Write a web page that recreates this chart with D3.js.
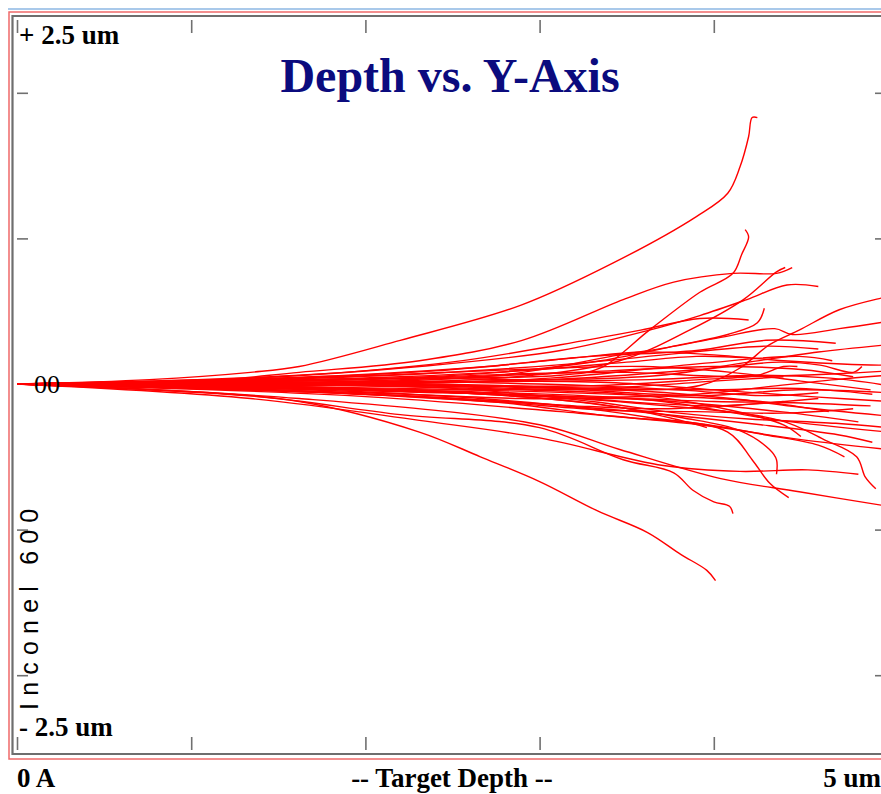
<!DOCTYPE html>
<meta charset="utf-8">
<style>
    body {
        margin: 0;
        background: #fff;
    }

    .lbl {
        font-family: "Liberation Serif", "Times New Roman", serif;
        font-weight: bold;
        fill: #000;
    }
</style>
<svg width="881" height="794"></svg>
<script src="https://cdn.jsdelivr.net/npm/d3@7/dist/d3.min.js"></script>
<script>
    // depth (um), lateral y (um)
    var upperTracks = [
        [[0, 0], [0.76, 0.03], [1.34, 0.08], [1.62, 0.12], [2.20, 0.30], [2.89, 0.54], [3.42, 0.83], [3.90, 1.15], [4.08, 1.31], [4.15, 1.49], [4.20, 1.70], [4.22, 1.83], [4.25, 1.83]],
        [[0, 0], [1.62, 0.01], [2.49, 0.04], [3.12, 0.06], [3.35, 0.11], [3.63, 0.37], [3.92, 0.63], [4.11, 0.76], [4.16, 0.89], [4.20, 1.01], [4.18, 1.06]],
        [[0, 0], [1.05, 0.02], [1.62, 0.08], [2.31, 0.16], [2.90, 0.30], [3.48, 0.58], [3.77, 0.70], [4.11, 0.76], [4.36, 0.76], [4.45, 0.80]],
        [[0, 0], [1.34, 0.04], [2.31, 0.12], [3.12, 0.23], [3.63, 0.37], [3.92, 0.47], [4.19, 0.58], [4.42, 0.68], [4.60, 0.67]],
        [[0, 0], [1.62, 0.01], [2.77, 0.04], [3.46, 0.16], [3.86, 0.37], [4.17, 0.58], [4.36, 0.77], [4.41, 0.80]],
        [[0, 0], [1.62, 0.06], [2.49, 0.15], [3.12, 0.27], [3.58, 0.37], [3.92, 0.45], [4.20, 0.44]],
        [[0, 0], [1.91, 0.03], [2.77, 0.08], [3.35, 0.16], [3.81, 0.27], [4.08, 0.34], [4.25, 0.42], [4.29, 0.52]],
        [[0, 0], [2.20, -0.01], [3.35, -0.04], [3.92, -0.01], [4.15, 0.11], [4.32, 0.27], [4.49, 0.37], [4.72, 0.51], [4.96, 0.59], [5.0, 0.60]],
        [[0, 0], [1.62, 0.01], [2.77, 0.06], [3.46, 0.20], [3.73, 0.25], [4.04, 0.32], [4.35, 0.38], [4.45, 0.34], [4.72, 0.38], [5.0, 0.43]],
        [[0, 0], [1.62, -0.01], [3.06, 0.04], [3.92, 0.14], [4.49, 0.19], [4.68, 0.16]],
        [[0, 0], [1.62, 0], [3.06, 0.03], [3.92, 0.10], [4.38, 0.15], [4.61, 0.13], [4.80, 0.08], [4.85, 0.12]],
        [[0, 0], [1.91, -0.01], [3.35, -0.01], [3.92, 0.03], [4.25, 0.06], [4.40, 0.12], [4.48, 0.12]]
    ];

    var lowerTracks = [
        [[0, 0], [0.76, -0.04], [1.62, -0.12], [2.31, -0.33], [2.66, -0.50], [3.00, -0.67], [3.33, -0.87], [3.62, -1.02], [3.81, -1.17], [3.96, -1.28], [4.01, -1.35]],
        [[0, 0], [1.34, -0.08], [2.20, -0.21], [3.00, -0.30], [3.48, -0.52], [3.77, -0.61], [3.88, -0.73], [4.00, -0.81], [4.09, -0.84], [4.11, -0.89]],
        [[0, 0], [1.34, -0.10], [2.31, -0.25], [3.00, -0.37], [3.71, -0.56], [4.15, -0.60], [4.54, -0.59], [4.83, -0.62]],
        [[0, 0], [1.62, -0.10], [3.00, -0.28], [3.46, -0.45], [4.04, -0.65], [4.49, -0.74], [5.0, -0.84]],
        [[0, 0], [1.91, -0.05], [3.06, -0.14], [3.63, -0.23], [4.08, -0.33], [4.22, -0.52], [4.32, -0.68], [4.43, -0.78]],
        [[0, 0], [1.91, -0.03], [3.12, -0.11], [3.81, -0.23], [4.15, -0.32], [4.32, -0.45], [4.36, -0.52], [4.36, -0.62]],
        [[0, 0], [2.20, -0.04], [3.63, -0.14], [4.38, -0.25], [4.63, -0.38], [4.82, -0.50], [4.87, -0.64], [4.93, -0.72]],
        [[0, 0], [2.20, -0.03], [3.63, -0.08], [4.27, -0.12], [4.66, -0.19]],
        [[0, 0], [2.20, -0.05], [3.63, -0.11], [4.38, -0.19], [4.83, -0.26]],
        [[0, 0], [2.20, -0.08], [3.46, -0.18], [4.27, -0.28], [4.72, -0.35], [4.91, -0.40]],
        [[0, 0], [1.91, -0.08], [3.12, -0.19], [3.92, -0.28], [4.49, -0.38], [5.0, -0.45]],
        [[0, 0], [2.49, -0.05], [3.63, -0.11], [4.38, -0.25], [5.0, -0.33]],
        [[0, 0], [2.20, -0.04], [3.35, -0.14], [3.81, -0.25], [3.96, -0.30]]
    ];

    var coreTracks = [
        [[0, 0], [2.20, 0.01], [3.63, 0.03], [4.27, 0.06], [4.67, 0.04], [5.0, -0.01]],
        [[0, 0], [2.49, -0.01], [3.92, -0.04], [4.49, -0.03], [4.91, -0.07]],
        [[0, 0], [2.77, -0.01], [3.92, -0.08], [4.49, -0.04], [5.0, -0.06]],
        [[0, 0], [1.5, 0.02], [2.6, 0.05], [3.4, 0.09], [4.0, 0.12], [4.5, 0.10], [4.8, 0.05]],
        [[0, 0], [1.4, -0.02], [2.5, -0.06], [3.3, -0.09], [3.9, -0.07], [4.3, -0.02], [4.7, 0.03], [5.0, 0.06]],
        [[0, 0], [1.2, 0.03], [2.3, 0.07], [3.2, 0.14], [3.8, 0.21], [4.3, 0.26], [4.6, 0.24]],
        [[0, 0], [1.3, -0.04], [2.4, -0.09], [3.2, -0.15], [3.7, -0.17], [4.2, -0.14], [4.6, -0.10]],
        [[0, 0], [1.6, 0.01], [2.8, -0.02], [3.6, -0.05], [4.1, -0.10], [4.5, -0.16], [5.0, -0.22]],
        [[0, 0], [1.1, 0.02], [2.2, 0.04], [3.1, 0.03], [3.7, 0.06], [4.2, 0.15], [4.6, 0.22], [5.0, 0.27]],
        [[0, 0], [1.5, -0.03], [2.6, -0.04], [3.5, -0.02], [4.0, 0.02], [4.4, 0.05]],
        [[0, 0], [1.7, 0.04], [2.9, 0.10], [3.6, 0.12], [4.1, 0.08], [4.5, 0.02], [4.9, -0.04]],
        [[0, 0], [1.4, 0.00], [2.5, -0.03], [3.3, -0.12], [3.8, -0.20], [4.2, -0.24], [4.7, -0.27], [5.0, -0.30]],
        [[0, 0], [1.6, -0.05], [2.7, -0.12], [3.4, -0.18], [3.9, -0.19], [4.4, -0.20], [4.8, -0.17]],
        [[0, 0], [1.3, 0.03], [2.4, 0.09], [3.2, 0.18], [3.6, 0.22], [4.0, 0.20], [4.4, 0.16], [4.9, 0.13], [5.0, 0.13]],
        [[0, 0], [1.8, 0.02], [3.0, 0.00], [3.8, -0.04], [4.3, -0.08], [4.6, -0.06]],
        [[0, 0], [1.0, 0.01], [2.0, 0.03], [2.9, 0.07], [3.5, 0.08], [4.1, 0.05], [4.7, 0.07], [5.0, 0.09]],
        [[0, 0], [1.2, -0.01], [2.1, -0.05], [3.0, -0.08], [3.6, -0.13], [4.0, -0.15], [4.4, -0.12]],
        [[0, 0], [0.9, 0.02], [1.9, 0.06], [2.7, 0.12], [3.3, 0.19], [3.9, 0.23], [4.3, 0.30], [4.7, 0.28]],
        [[0, 0], [1.0, -0.02], [2.0, -0.07], [2.8, -0.13], [3.4, -0.22], [3.9, -0.27], [4.3, -0.35], [4.6, -0.42], [4.75, -0.50]],
        [[0, 0], [1.5, 0.00], [2.6, 0.02], [3.4, 0.01], [4.0, -0.04], [4.6, -0.09], [5.0, -0.12]],
        [[0, 0], [1.3, 0.02], [2.2, 0.05], [3.0, 0.10], [3.5, 0.15], [3.9, 0.19], [4.2, 0.18]],
        [[0, 0], [1.1, -0.03], [2.0, -0.06], [2.9, -0.10], [3.5, -0.10], [4.0, -0.12], [4.5, -0.13], [4.9, -0.15]],
        [[0, 0], [1.8, -0.01], [2.9, -0.04], [3.6, -0.08], [4.1, -0.18], [4.4, -0.28], [4.5, -0.36]]
    ];

    var xTicks = [0, 1, 2, 3, 4];
    var yTicks = [2, 1, -1, -2];
    var title = "Depth vs. Y-Axis";
    var topLabel = "+ 2.5 um", bottomLabel = "- 2.5 um", midLabel = "00";
    var xLabels = ["0 A", "-- Target Depth --", "5 um"];
    var targetName = "Inconel 600";

    var svg = d3.select("svg"),
        W = +svg.attr("width"),
        H = +svg.attr("height");

    var x = d3.scaleLinear().domain([0, 5]).range([17, 888]);
    var y = d3.scaleLinear().domain([-2.5, 2.5]).range([748, 20]);

    // window / frame lines
    svg.append("line").attr("x1", 8).attr("x2", W).attr("y1", 9).attr("y2", 9)
        .attr("stroke", "#a9c9ea").attr("stroke-width", 2);
    var red = svg.append("g").attr("stroke", "#f06a6a").attr("stroke-width", 1.5).attr("fill", "none");
    red.append("path").attr("d", "M" + W + ",12H9V759H" + W);
    var gray = svg.append("g").attr("stroke", "#6e6e6e").attr("stroke-width", 2.2).attr("fill", "none");
    gray.append("path").attr("d", "M" + W + ",16H12.5V754H" + W);

    svg.append("clipPath").attr("id", "plot")
        .append("rect").attr("x", 14).attr("y", 17).attr("width", W - 14).attr("height", 736);

    var line = d3.line()
        .x(function (d) { return x(d[0]); })
        .y(function (d) { return y(d[1]); })
        .curve(d3.curveCatmullRom.alpha(0.5));

    var tracks = svg.append("g").attr("clip-path", "url(#plot)");
    tracks.selectAll("path")
        .data(upperTracks.concat(coreTracks, lowerTracks))
        .enter().append("path")
        .attr("d", line)
        .attr("fill", "none")
        .attr("stroke", "#ff0000")
        .attr("stroke-width", 1.4)
        .attr("stroke-linejoin", "round");

    // inward ticks, no labels
    function ticks(sel) {
        sel.select(".domain").remove();
        sel.selectAll("line").attr("stroke", "#707070").attr("stroke-width", 1.6);
        sel.selectAll("text").remove();
    }
    svg.append("g").attr("transform", "translate(0,20)")
        .call(d3.axisTop(x).tickValues(xTicks).tickSize(-13)).call(ticks);
    svg.append("g").attr("transform", "translate(0,750)")
        .call(d3.axisBottom(x).tickValues(xTicks).tickSize(-13)).call(ticks);
    svg.append("g").attr("transform", "translate(17,0)")
        .call(d3.axisLeft(y).tickValues(yTicks).tickSize(-11)).call(ticks);
    svg.append("g").attr("transform", "translate(888,0)")
        .call(d3.axisRight(y).tickValues(yTicks).tickSize(-13)).call(ticks);

    svg.append("text").attr("class", "lbl").attr("x", 450).attr("y", 92)
        .attr("text-anchor", "middle").style("fill", "#0b0b7e")
        .attr("font-size", 48).text(title);

    svg.append("text").attr("class", "lbl").attr("x", 19).attr("y", 44)
        .attr("font-size", 27).text(topLabel);
    svg.append("text").attr("class", "lbl").attr("x", 19).attr("y", 736)
        .attr("font-size", 27).text(bottomLabel);
    svg.append("text").attr("class", "lbl").attr("x", 34).attr("y", 393)
        .attr("font-size", 26).style("font-weight", "normal")
        .text(midLabel);

    svg.append("text").attr("class", "lbl").attr("x", 17).attr("y", 787)
        .attr("font-size", 27).text(xLabels[0]);
    svg.append("text").attr("class", "lbl").attr("x", 452).attr("y", 787)
        .attr("text-anchor", "middle").attr("font-size", 27).text(xLabels[1]);
    svg.append("text").attr("class", "lbl").attr("x", 881).attr("y", 787)
        .attr("text-anchor", "end").attr("font-size", 27).text(xLabels[2]);

    svg.append("text")
        .attr("transform", "translate(38,710) rotate(-90)")
        .attr("font-family", "'Liberation Sans', Arial, sans-serif")
        .attr("font-size", 25)
        .attr("letter-spacing", 7.2)
        .attr("fill", "#000")
        .text(targetName);
</script>
